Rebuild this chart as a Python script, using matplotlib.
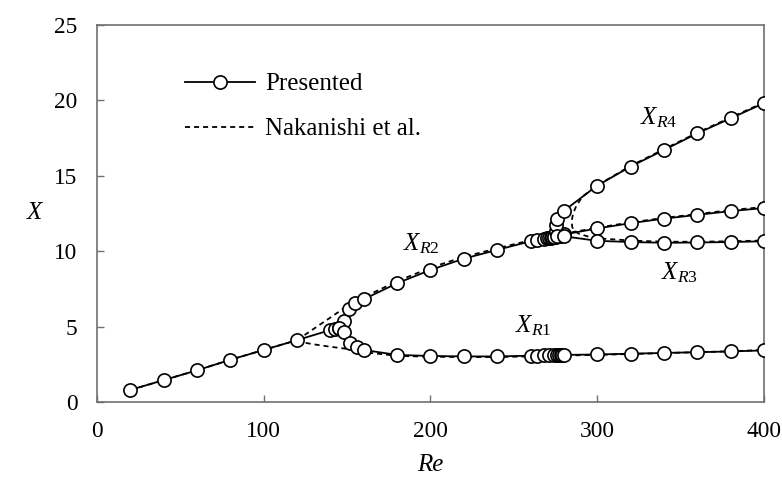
"""
Reattachment lengths vs Re: presented results against Nakanishi et al.
"""

import matplotlib
matplotlib.use("Agg")
import matplotlib.pyplot as plt
from matplotlib.lines import Line2D

plt.rcParams["font.family"] = ["Liberation Serif", "DejaVu Serif"]
plt.rcParams["mathtext.fontset"] = "custom"
plt.rcParams["mathtext.rm"] = "Liberation Serif"
plt.rcParams["mathtext.it"] = "Liberation Serif:italic"

# Presented, single branch before the first bifurcation
pre_main_re = [20, 40, 60, 80, 100, 120, 140, 143, 145]
pre_main_x = [0.8, 1.45, 2.1, 2.8, 3.45, 4.1, 4.77, 4.85, 4.93]

# Presented X_R2 (upper branch)
pre_r2_re = [145, 148, 151, 155, 160, 180, 200, 220, 240, 260, 264, 268,
             270, 271, 272, 273, 274, 275, 276, 277, 278, 280,
             300, 320, 340, 360, 380, 400]
pre_r2_x = [4.93, 5.37, 6.15, 6.54, 6.81, 7.87, 8.75, 9.5, 10.08, 10.65, 10.74, 10.82,
            10.86, 10.88, 10.9, 10.92, 10.94, 10.96, 10.98, 11.0, 11.03, 11.1,
            11.5, 11.85, 12.15, 12.4, 12.65, 12.85]

# Presented X_R1 (lower branch)
pre_r1_re = [145, 148, 152, 156, 160, 180, 200, 220, 240, 260, 264, 268,
             271, 274, 276, 277, 278, 279, 280, 300, 320, 340, 360, 380, 400]
pre_r1_x = [4.93, 4.66, 3.89, 3.63, 3.45, 3.12, 3.05, 3.02, 3.02, 3.07, 3.08, 3.09,
            3.1, 3.1, 3.11, 3.11, 3.11, 3.12, 3.12, 3.15, 3.2, 3.25, 3.3, 3.35, 3.42]

# Presented X_R4
pre_r4_re = [274, 275, 275.5, 276, 280, 300, 320, 340, 360, 380, 400]
pre_r4_x = [10.94, 11.3, 11.74, 12.1, 12.67, 14.34, 15.6, 16.7, 17.8, 18.8, 19.8]

# Presented X_R3
pre_r3_re = [276, 280, 300, 320, 340, 360, 380, 400]
pre_r3_x = [10.98, 10.98, 10.68, 10.6, 10.55, 10.57, 10.6, 10.65]

# Nakanishi et al.
nak_main_re = [20, 40, 60, 80, 100, 120]
nak_main_x = [0.8, 1.45, 2.1, 2.8, 3.45, 4.1]

nak_up_re = [120, 130, 140, 150, 160, 180, 200, 220, 240, 260, 280,
             300, 320, 340, 360, 380, 400]
nak_up_x = [4.1, 4.85, 5.6, 6.35, 6.95, 8.0, 8.9, 9.62, 10.18, 10.72, 11.15,
            11.55, 11.9, 12.2, 12.45, 12.72, 12.92]

nak_low_re = [120, 125, 130, 140, 150, 160, 180, 200, 220, 240, 260, 280,
              300, 320, 340, 360, 380, 400]
nak_low_x = [4.1, 3.92, 3.82, 3.66, 3.52, 3.3, 3.06, 3.0, 2.98, 2.98, 3.02, 3.08,
             3.12, 3.18, 3.24, 3.3, 3.36, 3.45]

nak_fold_re = [400, 380, 360, 340, 320, 300, 291, 287.5, 285.5, 284.7, 285.0,
               286, 289, 295, 300, 320, 340, 360, 380, 400]
nak_fold_x = [19.85, 18.85, 17.85, 16.75, 15.65, 14.35, 13.6, 13.0, 12.5, 12.0, 11.6,
              11.35, 11.15, 10.95, 10.85, 10.7, 10.62, 10.62, 10.65, 10.7]

# Curve labels (left edge, baseline)
labels = [r"$X_{R1}$", r"$X_{R2}$", r"$X_{R3}$", r"$X_{R4}$"]
label_re = [250.5, 183.5, 338.5, 325.5]
label_x = [4.6, 10.05, 8.1, 18.4]


fig = plt.figure(figsize=(7.82, 4.8), dpi=100)
ax = fig.add_axes([0.124, 0.1625, 0.853, 0.786])

dash = dict(color="black", lw=1.3, dashes=(2.8, 2.2), zorder=2)
for re, x in [(nak_main_re, nak_main_x), (nak_up_re, nak_up_x),
              (nak_low_re, nak_low_x), (nak_fold_re, nak_fold_x)]:
    ax.plot(re, x, **dash)

solid = dict(color="black", lw=1.3, marker="o", ms=9.5, mfc="white",
             mec="black", mew=1.2, zorder=3)
for re, x in [(pre_main_re, pre_main_x), (pre_r2_re, pre_r2_x),
              (pre_r1_re, pre_r1_x), (pre_r4_re, pre_r4_x),
              (pre_r3_re, pre_r3_x)]:
    ax.plot(re, x, **solid)

for txt, re, x in zip(labels, label_re, label_x):
    ax.text(re, x, txt, fontsize=18, ha="left", va="baseline")

ax.set_xlim(0, 400)
ax.set_ylim(0, 25)
ax.set_xticks([0, 100, 200, 300, 400])
ax.set_yticks([0, 5, 10, 15, 20, 25])
ax.tick_params(direction="in", length=5, width=1.0, color="#707070",
               labelsize=16.8, pad=14)
for sp in ax.spines.values():
    sp.set_color("#707070")
    sp.set_linewidth(1.2)

ax.set_xlabel("Re", fontsize=18, style="italic", labelpad=8)
ax.set_ylabel("X", fontsize=18, style="italic", rotation=0, labelpad=14,
              va="center")

handles = [
    Line2D([], [], color="black", lw=1.3, marker="o", ms=9.5, mfc="white",
           mec="black", mew=1.2),
    Line2D([], [], color="black", lw=1.3, dashes=(2.8, 2.2)),
]
ax.legend(handles, ["Presented", "Nakanishi et al."], loc="upper left",
          bbox_to_anchor=(0.098, 0.932), frameon=False, fontsize=18,
          handlelength=2.8, handletextpad=0.4, labelspacing=0.9)

fig.savefig("out.png", dpi=100)
